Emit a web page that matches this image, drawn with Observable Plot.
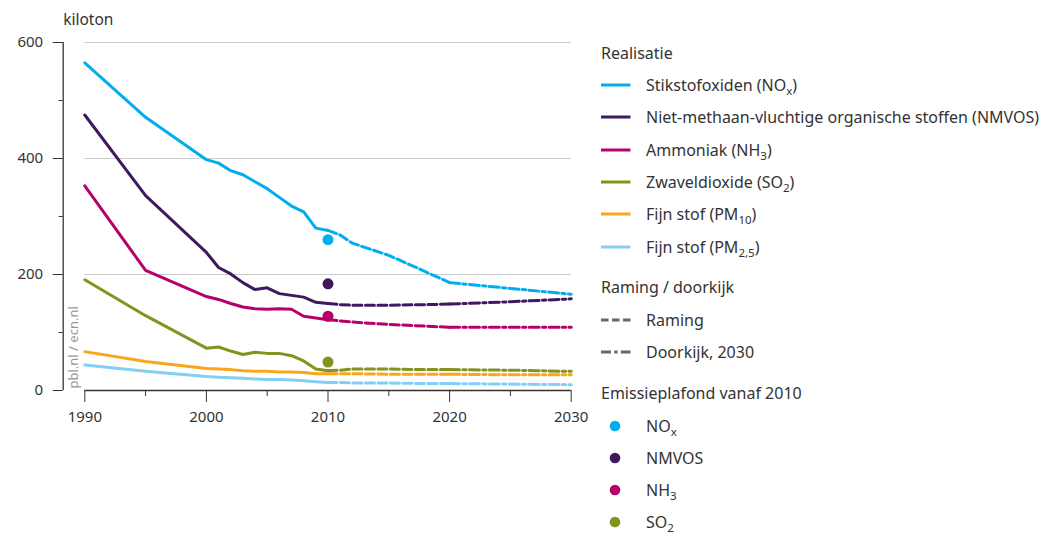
<!DOCTYPE html>
<html><head><meta charset="utf-8">
<script src="https://cdn.jsdelivr.net/npm/d3@7"></script>
<script src="https://cdn.jsdelivr.net/npm/@observablehq/plot@0.6"></script>
<style>
body{margin:0;background:#fff;font-family:"Noto Sans",sans-serif;color:#333;}
#wrap{position:relative;width:1046px;height:535px;overflow:hidden;}
#chart{position:absolute;left:0;top:0;}
.lg{position:absolute;left:601px;height:20px;line-height:20px;font-size:16px;white-space:nowrap;color:#333;}
.item{position:absolute;left:601px;height:20px;line-height:20px;font-size:16px;white-space:nowrap;color:#333;}
.item svg{position:absolute;left:0;top:0;}
.item span{position:absolute;left:45px;top:0;}
sub{font-size:0.72em;vertical-align:-0.38em;line-height:0;}
</style></head>
<body><div id="wrap"><div id="chart"></div><div id="legend"></div></div>
<script>
// ---- data ----
const seriesKeys = ["NOx", "NMVOS", "NH3", "SO2", "PM10", "PM25"];
const seriesColors = ["#00aeef", "#40185f", "#b8006b", "#84921e", "#f9a61a", "#82cff2"];
const seriesLabels = [
  "Stikstofoxiden (NO<sub>x</sub>)",
  "Niet-methaan-vluchtige organische stoffen (NMVOS)",
  "Ammoniak (NH<sub>3</sub>)",
  "Zwaveldioxide (SO<sub>2</sub>)",
  "Fijn stof (PM<sub>10</sub>)",
  "Fijn stof (PM<sub>2,5</sub>)"
];

const realYears = [1990, 1995, 2000, 2001, 2002, 2003, 2004, 2005, 2006, 2007, 2008, 2009, 2010];
const noxReal   = [565, 471, 398, 392, 379, 372, 360, 348, 333, 318, 308, 280, 276];
const nmvosReal = [475, 336, 238, 212, 201, 186, 174, 177, 167, 164, 161, 152, 150];
const nh3Real   = [353, 207, 162, 157, 150, 144, 141, 140, 141, 140, 128, 125, 122];
const so2Real   = [191, 129, 73, 75, 68, 62, 66, 64, 64, 60, 51, 37, 34];
const pm10Real  = [67, 50, 38, 37, 36, 34, 33, 33, 32, 32, 31, 29, 29];
const pm25Real  = [44, 33, 24, 23, 22, 21, 20, 19, 19, 18, 17, 15, 14];

const ramingYears = [2010, 2011, 2012, 2015, 2018, 2020];
const noxRaming   = [276, 268, 254, 233, 205, 186];
const nmvosRaming = [150, 148, 147, 147, 148, 149];
const nh3Raming   = [122, 120, 118, 114, 111, 109];
const so2Raming   = [34, 35, 37, 37, 36, 36];
const pm10Raming  = [29, 29, 29, 28, 28, 28];
const pm25Raming  = [14, 14, 13, 13, 12, 12];

const doorkijkYears = [2020, 2025, 2030];
const noxDoorkijk   = [186, 176, 166];
const nmvosDoorkijk = [149, 153, 158];
const nh3Doorkijk   = [109, 109, 109];
const so2Doorkijk   = [36, 35, 33];
const pm10Doorkijk  = [28, 27, 27];
const pm25Doorkijk  = [12, 11, 10];

const ceilingYear = 2010;
const ceilingKeys = ["NOx", "NMVOS", "NH3", "SO2"];
const ceilingLabels = ["NO<sub>x</sub>", "NMVOS", "NH<sub>3</sub>", "SO<sub>2</sub>"];
const ceilingValues = [260, 184, 128, 49];

const yTicks = [0, 200, 400, 600];
const yMinorTicks = [100, 300, 500];
const xTicks = [1990, 2000, 2010, 2020, 2030];
const xMinorTicks = [1995, 2005, 2015, 2025];

// ---- tables ----
function rows(years, arrays) {
  const out = [];
  arrays.forEach((vals, i) => vals.forEach((v, j) => out.push({series: seriesKeys[i], year: years[j], value: v})));
  return out;
}
const realRows = rows(realYears, [noxReal, nmvosReal, nh3Real, so2Real, pm10Real, pm25Real]);
const ramingRows = rows(ramingYears, [noxRaming, nmvosRaming, nh3Raming, so2Raming, pm10Raming, pm25Raming]);
const doorkijkRows = rows(doorkijkYears, [noxDoorkijk, nmvosDoorkijk, nh3Doorkijk, so2Doorkijk, pm10Doorkijk, pm25Doorkijk]);
const ceilingRows = ceilingKeys.map((k, i) => ({series: k, year: ceilingYear, value: ceilingValues[i]}));

const axisDx = -21.6;
const ink = "#333";

const chart = Plot.plot({
  width: 590,
  height: 440,
  marginTop: 42,
  marginBottom: 50,
  marginLeft: 84.3,
  marginRight: 19.3,
  style: {fontFamily: "'Noto Sans', sans-serif", background: "transparent"},
  x: {domain: [1990, 2030], label: null},
  y: {domain: [0, 600], label: null},
  color: {domain: seriesKeys, range: seriesColors},
  marks: [
    Plot.ruleY([200, 400, 600], {stroke: "#cccccc", strokeWidth: 1}),
    Plot.ruleY([0], {stroke: ink, strokeWidth: 1.3}),
    Plot.ruleX([1990], {y1: 0, y2: 600, dx: axisDx, stroke: ink, strokeWidth: 1.3}),
    Plot.axisY({ticks: yTicks, label: null, tickSize: 10, tickPadding: 10, dx: axisDx, fontSize: 15, color: ink, tickFormat: d => String(d)}),
    Plot.axisY({ticks: yMinorTicks, label: null, tickSize: 4, dx: axisDx, color: ink, tickFormat: () => ""}),
    Plot.axisX({ticks: xTicks, label: null, tickSize: 12, tickPadding: 9, fontSize: 15, color: ink, tickFormat: d => String(d)}),
    Plot.axisX({ticks: xMinorTicks, label: null, tickSize: 6, color: ink, tickFormat: () => ""}),
    Plot.text(["kiloton"], {frameAnchor: "top-left", dx: axisDx, dy: -22, textAnchor: "start", lineAnchor: "middle", fontSize: 15.5, fill: ink}),
    Plot.text(["pbl.nl / ecn.nl"], {frameAnchor: "bottom-left", dx: -11.3, dy: -2, rotate: -90, textAnchor: "start", lineAnchor: "middle", fontSize: 13, fill: "#999"}),
    Plot.line(realRows, {x: "year", y: "value", z: "series", stroke: "series", strokeWidth: 3}),
    Plot.line(ramingRows, {x: "year", y: "value", z: "series", stroke: "series", strokeWidth: 3, strokeDasharray: "9,3.5"}),
    Plot.line(doorkijkRows, {x: "year", y: "value", z: "series", stroke: "series", strokeWidth: 3, strokeDasharray: "10,3.3,3.3,3.3"}),
    Plot.dot(ceilingRows, {x: "year", y: "value", fill: "series", r: 5.5})
  ]
});
document.getElementById("chart").appendChild(chart);

// ---- legend ----
const legend = document.getElementById("legend");
function addTitle(text, cy) {
  const d = document.createElement("div");
  d.className = "lg"; d.style.top = (cy - 10) + "px"; d.textContent = text;
  legend.appendChild(d);
}
function addItem(html, cy, swatch) {
  const d = document.createElement("div");
  d.className = "item"; d.style.top = (cy - 10) + "px";
  d.innerHTML = swatch + "<span>" + html + "</span>";
  legend.appendChild(d);
}
const lineSwatch = (c, dash) => `<svg width="32" height="20"><line x1="0" x2="29.5" y1="10" y2="10" stroke="${c}" stroke-width="3" ${dash ? `stroke-dasharray="${dash}"` : ""}/></svg>`;
const dotSwatch = c => `<svg width="32" height="20"><circle cx="14" cy="10" r="5.3" fill="${c}"/></svg>`;

addTitle("Realisatie", 52.7);
seriesLabels.forEach((lab, i) => addItem(lab, 85 + i * 32.3, lineSwatch(seriesColors[i])));
addTitle("Raming / doorkijk", 286.7);
addItem("Raming", 320, lineSwatch("#666", "7.5,3.5"));
addItem("Doorkijk, 2030", 351.7, lineSwatch("#666", "10,3.3,3.3,3.3"));
addTitle("Emissieplafond vanaf 2010", 393.3);
ceilingLabels.forEach((lab, i) => addItem(lab, 425.7 + i * 32.2, dotSwatch(seriesColors[i])));
</script></body></html>
